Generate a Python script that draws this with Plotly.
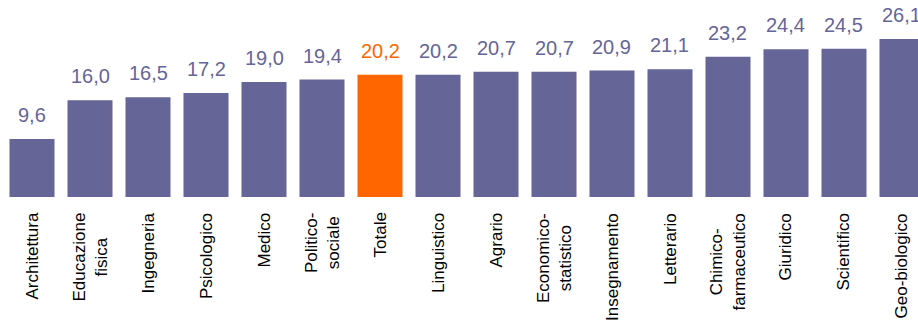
import plotly.graph_objects as go

categories = ["Architettura", "Educazione<br>fisica", "Ingegneria", "Psicologico", "Medico",
              "Politico-<br>sociale", "Totale", "Linguistico", "Agrario", "Economico-<br>statistico",
              "Insegnamento", "Letterario", "Chimico-<br>farmaceutico", "Giuridico", "Scientifico",
              "Geo-biologico"]
values = [9.6, 16.0, 16.5, 17.2, 19.0, 19.4, 20.2, 20.2, 20.7, 20.7, 20.9, 21.1, 23.2, 24.4, 24.5, 26.1]
highlight = "Totale"

PURPLE = "#656598"
ORANGE = "#FF6600"
FONT = "Liberation Sans, Arial"
colors = [ORANGE if c == highlight else PURPLE for c in categories]
labels = [f"{v:.1f}".replace(".", ",") for v in values]
xs = list(range(len(categories)))

fig = go.Figure()
fig.add_trace(go.Bar(x=xs, y=values, marker=dict(color=colors, line=dict(width=0)),
                     hoverinfo="skip"))

# value labels
for i, (v, t, c) in enumerate(zip(values, labels, colors)):
    fig.add_annotation(x=i, y=v, text=t, showarrow=False, yanchor="bottom", yshift=11,
                       font=dict(family=FONT, size=20, color=c))

# category labels (rotated, centred lines)
for i, cat in enumerate(categories):
    fig.add_annotation(x=i, xref="x", y=0, yref="paper", text=cat, showarrow=False,
                       textangle=-90, xanchor="center", yanchor="top", yshift=-14, align="center",
                       font=dict(family=FONT, size=17, color="black"))

fig.update_layout(
    width=918, height=324,
    margin=dict(l=3, r=0, t=0, b=127),
    paper_bgcolor="white", plot_bgcolor="white",
    bargap=0.224, showlegend=False,
    font=dict(family=FONT, size=17, color="black"),
)
fig.update_xaxes(range=[-0.5, 15.276], showticklabels=False, showgrid=False, zeroline=False,
                 showline=False, ticks="")
fig.update_yaxes(range=[0, 32.56], visible=False)

fig.write_html("out.html")
